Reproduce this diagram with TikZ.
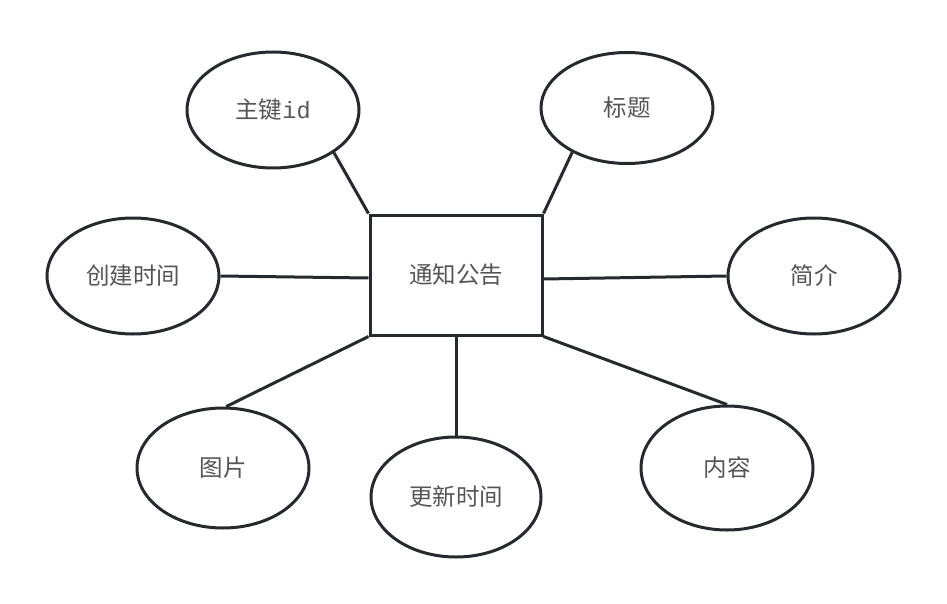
\documentclass[tikz,border=0pt]{standalone}
\usepackage{fontspec}
\setmainfont{Noto Sans CJK SC}
\newfontfamily\latinmono{Liberation Mono}
\usetikzlibrary{shapes.geometric}
\definecolor{lineclr}{HTML}{26292D}
\definecolor{textclr}{HTML}{555555}
\tikzset{%
	entity/.style = {draw=lineclr, rectangle, line width=3pt, minimum width=172pt, minimum height=120pt, text=textclr, font=\fontsize{23.5}{27}\selectfont},
	attr/.style   = {draw=lineclr, ellipse, line width=3pt, minimum width=172pt, minimum height=116pt, inner sep=0pt, text=textclr, font=\fontsize{23.5}{27}\selectfont},
	link/.style   = {draw=lineclr, line width=3pt},
}
\begin{document}
\begin{tikzpicture}[x=1pt,y=-1pt]
	\useasboundingbox (0,0) rectangle (947,604);
	
	% entity
	\node[entity] (notice) at (456,275) {通知公告};
	
	% attributes
	\node[attr] (pkid)    at (273,110) {主键{\latinmono id}};
	\node[attr] (title)   at (627,108) [minimum height=111pt] {标题};
	\node[attr] (created) at (133,276) {创建时间};
	\node[attr] (summary) at (814,276) {简介};
	\node[attr] (image)   at (223,468) [minimum height=120pt] {图片};
	\node[attr] (updated) at (456,497) [minimum width=170pt, minimum height=120pt] {更新时间};
	\node[attr] (content) at (727,468) [minimum height=124pt] {内容};
	
	% links
	\draw[link] (pkid.-35) -- (notice.north west);
	\draw[link] (title.-141) -- (notice.north east);
	\draw[link] (created.east) -- ([yshift=-3pt]notice.west);
	\draw[link] ([yshift=-4pt]notice.east) -- (summary.west);
	\draw[link] (notice.south west) -- (image.87);
	\draw[link] (notice.south) -- (updated.north);
	\draw[link] (notice.south east) -- (content.north);
\end{tikzpicture}
\end{document}
